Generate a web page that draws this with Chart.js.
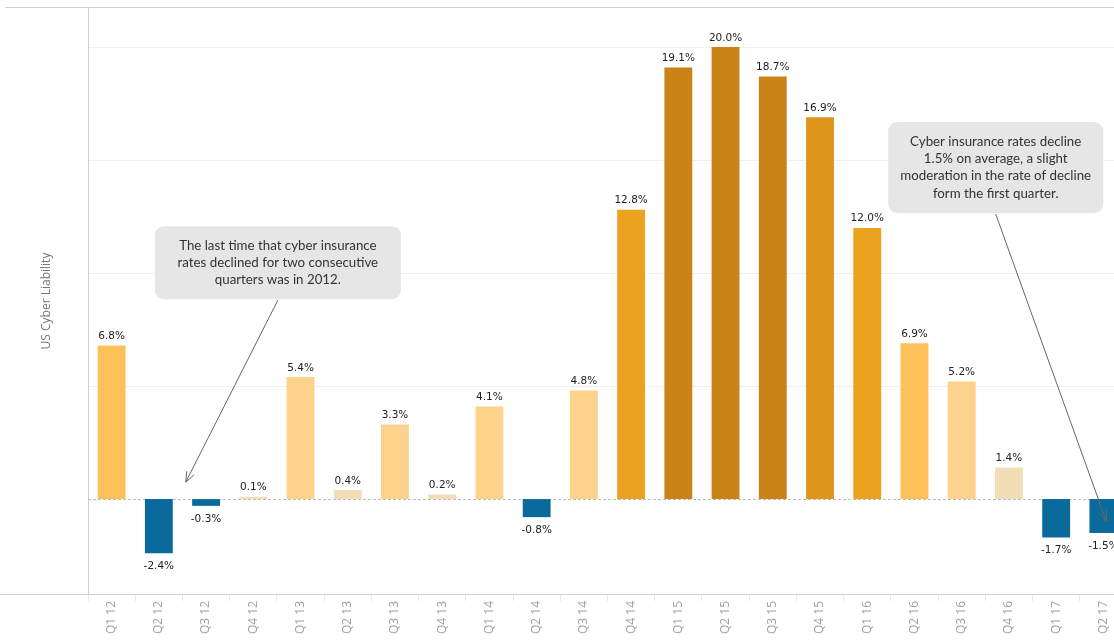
<!DOCTYPE html>
<html>
<head>
<meta charset="utf-8">
<script src="https://cdn.jsdelivr.net/npm/chart.js@4.4.1/dist/chart.umd.min.js"></script>
<style>
  html, body { margin: 0; padding: 0; background: #fff; overflow: hidden; }
  #wrap { width: 1127px; height: 640px; }
</style>
</head>
<body>
<div id="wrap"><canvas id="chart"></canvas></div>
<script>
/* ---------- DATA ---------- */
const quarters = ["Q1 12","Q2 12","Q3 12","Q4 12","Q1 13","Q2 13","Q3 13","Q4 13",
  "Q1 14","Q2 14","Q3 14","Q4 14","Q1 15","Q2 15","Q3 15","Q4 15",
  "Q1 16","Q2 16","Q3 16","Q4 16","Q1 17","Q2 17"];
const rateChange = [6.8,-2.4,-0.3,0.1,5.4,0.4,3.3,0.2,4.1,-0.8,4.8,12.8,
  19.1,20.0,18.7,16.9,12.0,6.9,5.2,1.4,-1.7,-1.5];
const gridValues = [5,10,15,20];
const yAxisTitle = "US Cyber Liability";

const notes = [
  { lines: ["The last time that cyber insurance","rates declined for two consecutive","quarters was in 2012."],
    box: { x: 3.52, y: 10.46, w: 246, h: 73 }, tip: { x: 1.57, y: 0.75 } },
  { lines: ["Cyber insurance rates decline","1.5% on average, a slight","moderation in the rate of decline","form the first quarter."],
    box: { x: 18.72, y: 14.67, w: 215, h: 91 }, tip: { x: 21.06, y: -0.97 } }
];

const NOTE_FONT = "Lato, 'Open Sans', sans-serif";
const AXIS_FONT = "'Open Sans', sans-serif";
const LABEL_FONT = "'DejaVu Sans', sans-serif";

/* ---------- COLOURS ---------- */
function barColor(v){
    if(v < 0) return "#0b6a9c";
    if(v < 2) return "#f1ddb6";
    if(v < 6) return "#fdd28c";
    if(v < 10) return "#fcc158";
    if(v < 15) return "#eba21e";
    if(v < 18) return "#dd961a";
    return "#c98316";
}

/* ---------- PLUGIN: frame, zero line, labels, notes ---------- */
const decor = {
    id: "decor",
    beforeDatasetsDraw(chart){
        const {ctx, chartArea: a, scales: {y}} = chart;
        ctx.save();
        // zero line
        const y0 = Math.round(y.getPixelForValue(0)) + 0.5;
        ctx.strokeStyle = "#bdbdbd";
        ctx.lineWidth = 1;
        ctx.setLineDash([3,2]);
        ctx.beginPath();
        ctx.moveTo(a.left, y0);
        ctx.lineTo(a.right, y0);
        ctx.stroke();
        ctx.setLineDash([]);
        // frame
        ctx.strokeStyle = "#cfcfcf";
        ctx.beginPath();
        ctx.moveTo(5, 7.5); ctx.lineTo(chart.width, 7.5);
        ctx.moveTo(0, a.bottom + 0.5); ctx.lineTo(chart.width, a.bottom + 0.5);
        ctx.stroke();
        // y title
        ctx.fillStyle = "#777";
        ctx.font = "12px " + AXIS_FONT;
        ctx.textAlign = "center";
        ctx.textBaseline = "middle";
        ctx.translate(47, (a.top + a.bottom) / 2);
        ctx.rotate(-Math.PI / 2);
        ctx.fillText(yAxisTitle, 0, 0);
        ctx.restore();
    },
    afterDatasetsDraw(chart){
        const {ctx, scales: {x, y}} = chart;
        const meta = chart.getDatasetMeta(0);
        ctx.save();
        ctx.font = "10.5px " + LABEL_FONT;
        ctx.fillStyle = "#222";
        ctx.textAlign = "center";
        meta.data.forEach((bar, i) => {
            const v = rateChange[i];
            const txt = v.toFixed(1) + "%";
            if(v >= 0){
                ctx.textBaseline = "bottom";
                ctx.fillText(txt, bar.x, bar.y - 4);
            } else {
                ctx.textBaseline = "top";
                ctx.fillText(txt, bar.x, bar.y + 8);
            }
        });

        notes.forEach(n => {
            const cx = x.getPixelForValue(n.box.x);
            const cy = y.getPixelForValue(n.box.y);
            const bx = cx - n.box.w / 2, by = cy - n.box.h / 2;
            const tx = x.getPixelForValue(n.tip.x);
            const ty = y.getPixelForValue(n.tip.y);
            const sx = cx, sy = by + n.box.h + 1;
            // arrow
            ctx.strokeStyle = "#666";
            ctx.lineWidth = 1;
            ctx.beginPath();
            ctx.moveTo(sx, sy);
            ctx.lineTo(tx, ty);
            const ang = Math.atan2(ty - sy, tx - sx);
            const hl = 11, hw = 0.38;
            ctx.moveTo(tx - hl * Math.cos(ang - hw), ty - hl * Math.sin(ang - hw));
            ctx.lineTo(tx, ty);
            ctx.lineTo(tx - hl * Math.cos(ang + hw), ty - hl * Math.sin(ang + hw));
            ctx.stroke();
            // box
            ctx.fillStyle = "#e6e6e6";
            ctx.beginPath();
            ctx.roundRect(bx, by, n.box.w, n.box.h, 9);
            ctx.fill();
            // text
            ctx.fillStyle = "#333";
            ctx.font = "13.3px " + NOTE_FONT;
            ctx.textBaseline = "middle";
            const lh = 17.3;
            const top = cy - (n.lines.length - 1) * lh / 2;
            n.lines.forEach((l, k) => ctx.fillText(l, cx, top + k * lh));
        });
        ctx.restore();
    }
};

/* ---------- CHART ---------- */
new Chart(document.getElementById("chart"), {
    type: "bar",
    data: {
        labels: quarters,
        datasets: [{
            data: rateChange,
            backgroundColor: rateChange.map(barColor),
            categoryPercentage: 1,
            barPercentage: 0.59
        }]
    },
    options: {
        responsive: true,
        maintainAspectRatio: false,
        animation: false,
        layout: { padding: { top: 8, left: 0, right: 0, bottom: 0 } },
        plugins: { legend: { display: false }, tooltip: { enabled: false } },
        scales: {
            x: {
                border: { display: false },
                grid: { offset: true, drawOnChartArea: false, color: "#e8e8e8", tickLength: 7 },
                ticks: {
                    color: "#a0a0a0",
                    font: { family: AXIS_FONT, size: 12 },
                    minRotation: 90, maxRotation: 90,
                    padding: 0,
                    autoSkip: false
                },
                afterFit: s => { s.height = 46; }
            },
            y: {
                min: -4.2,
                max: 21.73,
                border: { display: true, color: "#cfcfcf" },
                grid: { color: "#f0f0f0", drawTicks: false },
                ticks: { display: false },
                afterBuildTicks: s => { s.ticks = gridValues.map(v => ({ value: v })); },
                afterFit: s => { s.width = 88; }
            }
        }
    },
    plugins: [decor]
});
</script>
</body>
</html>
